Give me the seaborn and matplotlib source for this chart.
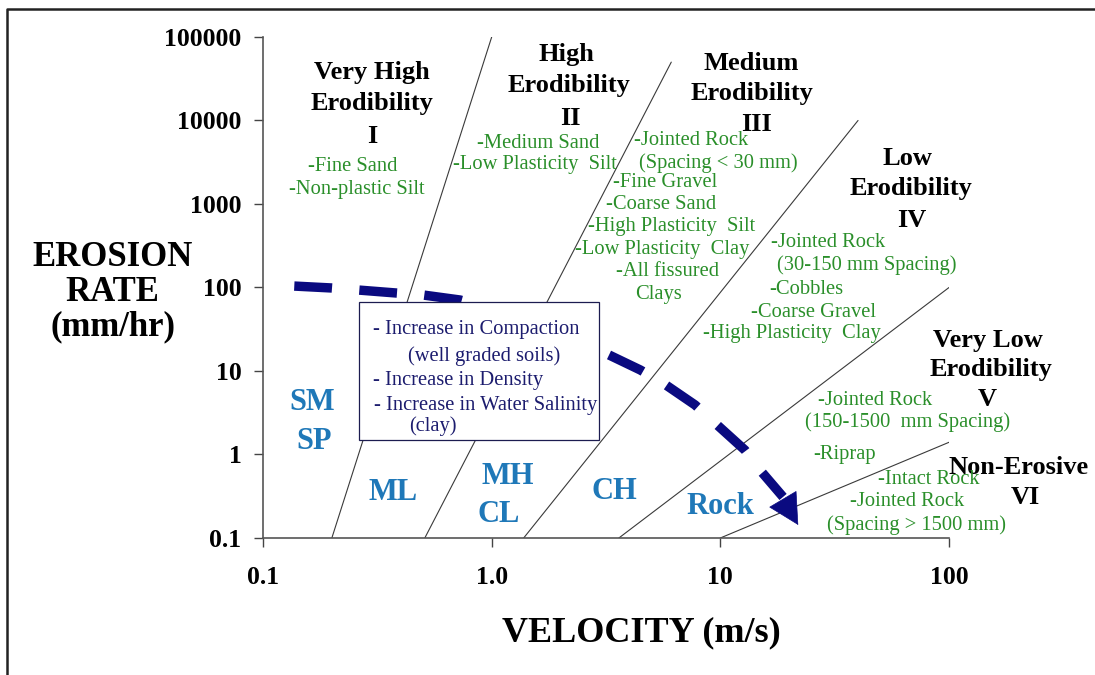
import matplotlib
matplotlib.use("Agg")
import matplotlib.pyplot as plt
from matplotlib.lines import Line2D
from matplotlib.patches import Rectangle
import pandas as pd
import seaborn as sns

sns.set_theme(style="white")
plt.rcParams['font.family'] = ['Liberation Serif', 'DejaVu Serif']
plt.rcParams['text.color'] = 'black'
plt.rcParams['xtick.color'] = 'black'
plt.rcParams['ytick.color'] = 'black'

# zone boundaries: velocity (m/s) and erosion rate (mm/hr) at both ends
boundary_ids = ["I-II", "II-III", "III-IV", "IV-V", "V-VI"]
boundary_v0 = [0.2, 0.51, 1.38, 3.6, 10]
boundary_v1 = [1.0, 6.1, 40, 100, 100]
boundary_e0 = [0.1, 0.1, 0.1, 0.1, 0.1]
boundary_e1 = [100000, 50000, 10000, 100, 1.4]

# trend arrow (increase in compaction / density / salinity)
trend_v = [0.137, 0.200, 0.260, 0.382, 0.501, 0.727, 1.63, 3.13, 4.46,
           5.61, 7.75, 9.48, 12.8, 14.9, 18.8]
trend_e = [104, 98.6, 93.3, 85.9, 81.3, 70.8, 38.6, 16.4, 10.3,
           7.18, 3.92, 2.38, 1.13, 0.652, 0.31]
arrow_tail = (18.97, 0.277)
arrow_tip = (21.9, 0.143)

x_ticks = [0.1, 1, 10, 100]
x_ticklabels = ["0.1", "1.0", "10", "100"]
y_ticks = [0.1, 1, 10, 100, 1000, 10000, 100000]
y_ticklabels = ["0.1", "1", "10", "100", "1000", "10000", "100000"]

# zone titles (axes fraction)
titles = [
    ("Very High", 0.159, 0.930), ("Erodibility", 0.159, 0.868), ("I", 0.159, 0.802),
    ("High", 0.442, 0.966), ("Erodibility", 0.446, 0.903), ("II", 0.448, 0.838),
    ("Medium", 0.711, 0.948), ("Erodibility", 0.713, 0.887), ("III", 0.719, 0.826),
    ("Low", 0.940, 0.758), ("Erodibility", 0.945, 0.697), ("IV", 0.946, 0.633),
    ("Very Low", 1.057, 0.395), ("Erodibility", 1.061, 0.337), ("V", 1.055, 0.277),
    ("Non-Erosive", 1.101, 0.140), ("VI", 1.111, 0.080),
]

materials = [
    ("-Fine Sand", 0.130, 0.741), ("-Non-plastic Silt", 0.137, 0.695),
    ("-Medium Sand", 0.401, 0.788), ("-Low Plasticity  Silt", 0.397, 0.745),
    ("-Jointed Rock", 0.624, 0.794), ("(Spacing < 30 mm)", 0.663, 0.749),
    ("-Fine Gravel", 0.586, 0.709), ("-Coarse Sand", 0.580, 0.665),
    ("-High Plasticity  Silt", 0.596, 0.621), ("-Low Plasticity  Clay", 0.582, 0.575),
    ("-All fissured", 0.590, 0.531), ("Clays", 0.577, 0.485),
    ("-Jointed Rock", 0.824, 0.589), ("(30-150 mm Spacing)", 0.880, 0.545),
    ("-Cobbles", 0.792, 0.495), ("-Coarse Gravel", 0.802, 0.451),
    ("-High Plasticity  Clay", 0.771, 0.409),
    ("-Jointed Rock", 0.892, 0.275), ("(150-1500  mm Spacing)", 0.940, 0.232),
    ("-Riprap", 0.847, 0.166),
    ("-Intact Rock", 0.971, 0.116), ("-Jointed Rock", 0.939, 0.072),
    ("(Spacing > 1500 mm)", 0.953, 0.026),
]

soil_classes = [
    ("SM", 0.071, 0.271), ("SP", 0.074, 0.192), ("ML", 0.190, 0.090),
    ("MH", 0.357, 0.122), ("CL", 0.343, 0.046), ("CH", 0.512, 0.092),
    ("Rock", 0.666, 0.062),
]

box_lines = [
    ("- Increase in Compaction", 0.160, 0.417),
    ("(well graded soils)", 0.211, 0.363),
    ("- Increase in Density", 0.160, 0.315),
    ("- Increase in Water Salinity", 0.162, 0.265),
    ("(clay)", 0.213, 0.224),
]

GREEN = "#2a8f2a"
NAVY = "#0a0a80"
BLUE = "#1f78b8"
BOXTXT = "#1c1c6e"

bounds = pd.DataFrame({
    "boundary": boundary_ids * 2,
    "velocity": boundary_v0 + boundary_v1,
    "rate": boundary_e0 + boundary_e1,
})
trend = pd.DataFrame({"velocity": trend_v, "rate": trend_e})

fig = plt.figure(figsize=(10.95, 6.75), dpi=100)
ax = fig.add_axes([0.2402, 0.2030, 0.6265, 0.7422])
ax.set_xscale("log")
ax.set_yscale("log")

sns.lineplot(data=bounds, x="velocity", y="rate", units="boundary", estimator=None,
             color="#3a3a3a", lw=0.8, sort=False, ax=ax, zorder=2)
sns.lineplot(data=trend, x="velocity", y="rate", sort=False, ax=ax, color=NAVY,
             lw=6.8, linestyle=(0, (4.0, 2.9)), dash_capstyle="butt", zorder=3)
ax.annotate("", xy=arrow_tip, xytext=arrow_tail,
            arrowprops=dict(arrowstyle="-|>,head_length=1.05,head_width=0.55",
                            color=NAVY, lw=0.5, mutation_scale=20,
                            shrinkA=0, shrinkB=0), zorder=3)

ax.set_xlim(0.1, 100)
ax.set_ylim(0.1, 100000)
ax.set_xticks(x_ticks)
ax.set_xticklabels(x_ticklabels)
ax.set_yticks(y_ticks)
ax.set_yticklabels(y_ticklabels)
ax.minorticks_off()
ax.tick_params(axis="both", which="major", direction="out", length=6.5, width=1,
               color="#444444", labelsize=18.5, left=True, bottom=True)
ax.tick_params(axis="x", pad=14)
ax.tick_params(axis="y", pad=9)
for lab in ax.get_xticklabels() + ax.get_yticklabels():
    lab.set_fontweight("bold")
ax.set_xlabel("")
ax.set_ylabel("")
for side in ["top", "right"]:
    ax.spines[side].set_visible(False)
for side in ["left", "bottom"]:
    ax.spines[side].set_color("#555555")
    ax.spines[side].set_linewidth(1.2)
ax.grid(False)

for txt, fx, fy in titles:
    ax.text(fx, fy, txt, transform=ax.transAxes, ha="center", va="center",
            fontsize=19, fontweight="bold", color="black", clip_on=False, zorder=5)
for txt, fx, fy in materials:
    ax.text(fx, fy, txt, transform=ax.transAxes, ha="center", va="center",
            fontsize=14.8, color=GREEN, clip_on=False, zorder=5)
for txt, fx, fy in soil_classes:
    ax.text(fx, fy, txt, transform=ax.transAxes, ha="center", va="center",
            fontsize=22, fontweight="bold", color=BLUE, zorder=5)

ax.add_patch(Rectangle((0.140, 0.196), 0.350, 0.275, transform=ax.transAxes,
                       facecolor="white", edgecolor="#1c1c50", lw=0.9, zorder=4))
for txt, fx, fy in box_lines:
    ax.text(fx, fy, txt, transform=ax.transAxes, ha="left", va="center",
            fontsize=14.8, color=BOXTXT, zorder=5)

fig.text(0.103, 0.619, "EROSION", ha="center", va="center", fontsize=25, fontweight="bold")
fig.text(0.103, 0.567, "RATE", ha="center", va="center", fontsize=25, fontweight="bold")
fig.text(0.103, 0.516, "(mm/hr)", ha="center", va="center", fontsize=25, fontweight="bold")
fig.text(0.586, 0.062, "VELOCITY (m/s)", ha="center", va="center", fontsize=26,
         fontweight="bold")

# slide frame: only the left and top edges fall inside the picture
fig.lines.append(Line2D([7 / 1095, 7 / 1095, 1.0], [0.0, 1 - 9 / 675, 1 - 9 / 675],
                        transform=fig.transFigure, color="#222222", lw=1.8))

fig.savefig("out.png", dpi=100)
